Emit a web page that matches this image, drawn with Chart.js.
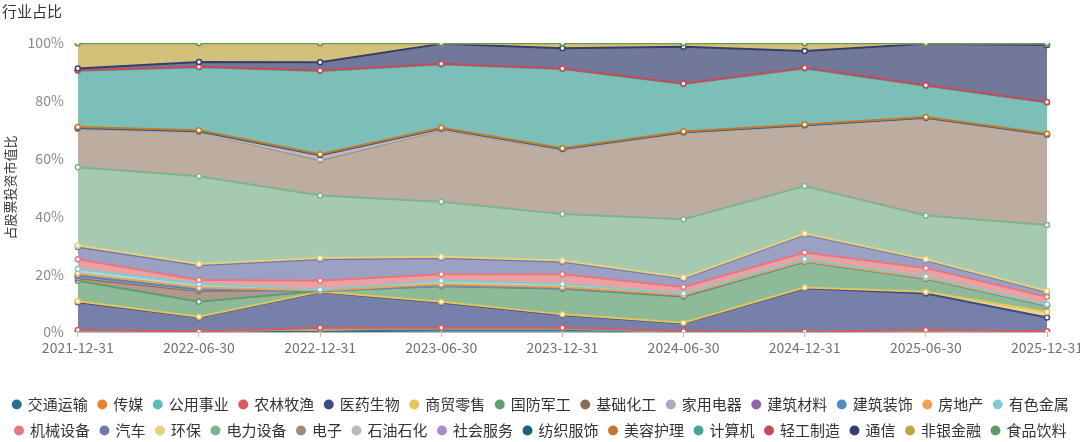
<!DOCTYPE html>
<html>
<head>
<meta charset="utf-8">
<script src="https://cdn.jsdelivr.net/npm/chart.js@4.4.1/dist/chart.umd.min.js"></script>
<style>
  html, body { margin: 0; padding: 0; background: #fff; }
  #wrap { width: 1080px; height: 442px; }
</style>
</head>
<body>
<div id="wrap"><canvas id="myChart"></canvas></div>
<script>
const dates = ["2021-12-31", "2022-06-30", "2022-12-31", "2023-06-30", "2023-12-31",
  "2024-06-30", "2024-12-31", "2025-06-30", "2025-12-31"];

const industries = ["交通运输", "传媒", "公用事业", "农林牧渔", "医药生物", "商贸零售", "国防军工",
  "基础化工", "家用电器", "建筑材料", "建筑装饰", "房地产", "有色金属", "机械设备", "汽车", "环保",
  "电力设备", "电子", "石油石化", "社会服务", "纺织服饰", "美容护理", "计算机", "轻工制造", "通信",
  "非银金融", "食品饮料"];

// share of stock holdings (%) per industry
const transport = [0.2, 0.1, 0.0, 0.8, 0.8, 0.1, 0.0, 0.0, 0.0];
const media = [0.1, 0.0, 1.0, 0.3, 0.3, 0.0, 0.0, 0.3, 0.1];
const utilities = [0.1, 0.0, 0.2, 0.1, 0.1, 0.0, 0.0, 0.2, 0.0];
const agriculture = [0.3, 0.1, 0.3, 0.3, 0.3, 0.2, 0.1, 0.2, 0.2];
const pharma = [9.6, 4.9, 12.3, 8.7, 4.4, 2.7, 15.0, 12.6, 4.7];
const retail = [0.3, 0.2, 0.2, 0.3, 0.2, 0.2, 0.3, 0.6, 1.9];
const defense = [7.1, 5.2, 0.2, 5.3, 8.9, 9.0, 8.9, 4.5, 2.2];
const chemicals = [0.9, 3.7, 0.1, 0.2, 0.2, 0.3, 0.1, 0.1, 0.1];
const appliances = [0.5, 0.3, 0.0, 0.1, 0.1, 0.1, 0.1, 0.1, 0.0];
const buildMaterials = [0.3, 0.2, 0.0, 0.1, 0.0, 0.0, 0.0, 0.0, 0.0];
const construction = [0.2, 0.2, 0.0, 0.1, 0.1, 0.1, 0.0, 0.0, 0.0];
const realEstate = [0.6, 0.5, 0.1, 0.2, 0.2, 0.1, 0.1, 0.1, 0.1];
const metals = [1.6, 1.2, 0.3, 1.2, 1.0, 0.5, 0.6, 0.5, 0.3];
const machinery = [3.4, 1.4, 3.0, 2.3, 3.4, 2.3, 2.3, 2.9, 2.6];
const autos = [4.2, 5.1, 7.5, 5.6, 4.3, 2.9, 6.2, 2.7, 1.6];
const environment = [0.5, 0.4, 0.4, 0.4, 0.4, 0.4, 0.4, 0.4, 0.4];
const powerEquip = [27.1, 30.4, 21.6, 19.1, 16.1, 20.1, 16.4, 15.1, 22.8];
const electronics = [13.2, 15.3, 12.2, 24.8, 22.1, 30.0, 20.9, 33.7, 31.2];
const petro = [0.1, 0.1, 0.5, 0.2, 0.1, 0.0, 0.0, 0.0, 0.0];
const services = [0.2, 0.2, 1.3, 0.2, 0.2, 0.1, 0.1, 0.1, 0.1];
const textiles = [0.1, 0.0, 0.0, 0.1, 0.1, 0.0, 0.0, 0.0, 0.0];
const beauty = [0.3, 0.3, 0.3, 0.3, 0.3, 0.3, 0.3, 0.3, 0.3];
const computers = [19.5, 21.8, 28.8, 21.9, 27.4, 16.4, 19.4, 10.8, 10.8];
const lightMfg = [0.2, 0.2, 0.2, 0.2, 0.2, 0.2, 0.2, 0.2, 0.2];
const telecom = [0.6, 1.6, 2.8, 6.9, 7.0, 12.7, 5.8, 14.3, 19.7];
const nonBank = [8.6, 6.4, 6.5, 0.1, 1.6, 1.1, 2.6, 0.1, 0.5];
const foodBev = [0.2, 0.2, 0.2, 0.2, 0.2, 0.2, 0.2, 0.2, 0.2];

const yTicks = [0, 20, 40, 60, 80, 100];

const seriesValues = [transport, media, utilities, agriculture, pharma, retail, defense,
  chemicals, appliances, buildMaterials, construction, realEstate, metals, machinery, autos,
  environment, powerEquip, electronics, petro, services, textiles, beauty, computers, lightMfg,
  telecom, nonBank, foodBev];

const colors = ["#2e6f91", "#e8852c", "#5cbdbd", "#d9595c", "#3d4a85", "#e3c55a", "#5c9e6e",
  "#8c6e58", "#a3adbb", "#8e63b0", "#4f8fbf", "#f0a050", "#84cccc", "#e6777e", "#7079ab",
  "#e8cf7a", "#7fb38e", "#a08a78", "#b3bcc3", "#a98cc8", "#1f5f7a", "#c7772a", "#45a39a",
  "#c84a56", "#343f6e", "#c2a640", "#5f9a64"];

const withAlpha = (hex, a) => {
  const n = parseInt(hex.slice(1), 16);
  return `rgba(${n >> 16},${(n >> 8) & 255},${n & 255},${a})`;
};

// running totals so each series sits on the ones before it,
// while later series can still be drawn on top (like the original)
let running = dates.map(() => 0);
const stackedValues = seriesValues.map((vals) => {
  running = running.map((s, j) => Math.round((s + vals[j]) * 10) / 10);
  return running;
});

const FONT = "'Noto Sans CJK SC', 'Noto Sans', sans-serif";

const datasets = industries.map((name, i) => ({
  label: name,
  data: stackedValues[i],
  order: -i,
  borderColor: colors[i],
  backgroundColor: withAlpha(colors[i], 0.7),
  borderWidth: 2,
  fill: i === 0 ? "origin" : "-1",
  tension: 0,
  pointRadius: 2.5,
  pointBorderWidth: 1.5,
  pointBackgroundColor: "#fff",
  pointBorderColor: colors[i],
}));

const ctx = document.getElementById("myChart").getContext("2d");
const myChart = new Chart(ctx, {
  type: "line",
  data: { labels: dates, datasets: datasets },
  options: {
    responsive: true,
    maintainAspectRatio: false,
    animation: false,
    layout: { padding: { left: 2, right: 0, top: 0, bottom: -6 } },
    plugins: {
      filler: { drawTime: "beforeDatasetsDraw" },
      tooltip: { enabled: false },
      title: {
        display: true,
        text: "行业占比",
        align: "start",
        color: "#333",
        font: { family: FONT, size: 15, weight: "normal" },
        padding: { top: 2, bottom: 23 },
      },
      legend: {
        position: "bottom",
        labels: {
          usePointStyle: true,
          pointStyle: "circle",
          boxWidth: 7,
          boxHeight: 7,
          padding: 11,
          color: "#333",
          font: { family: FONT, size: 15 },
          generateLabels: (chart) => {
            const items = Chart.defaults.plugins.legend.labels.generateLabels(chart);
            items.forEach((it) => {
              it.fillStyle = colors[it.datasetIndex];
              it.strokeStyle = colors[it.datasetIndex];
              it.lineWidth = 0;
            });
            return items.sort((a, b) => a.datasetIndex - b.datasetIndex);
          },
        },
      },
    },
    scales: {
      x: {
        grid: { display: true, drawOnChartArea: false, color: "#bbb", tickLength: 5 },
        border: { color: "#bbb" },
        ticks: { color: "#6e7079", font: { family: FONT, size: 14 }, maxRotation: 0, padding: 2 },
        afterFit: (scale) => {
          scale.height = 54;
          scale.paddingRight = 33;
        },
      },
      y: {
        min: 0,
        max: 100,
        grid: { display: false },
        border: { display: false },
        afterBuildTicks: (scale) => { scale.ticks = yTicks.map((v) => ({ value: v })); },
        ticks: {
          color: "#8a8a8a",
          font: { family: FONT, size: 14 },
          padding: 6,
          callback: (v) => v + "%",
        },
        title: {
          display: true,
          text: "占股票投资市值比",
          color: "#333",
          font: { family: FONT, size: 13 },
          padding: { top: 0, bottom: 4 },
        },
      },
    },
  },
});
</script>
</body>
</html>
